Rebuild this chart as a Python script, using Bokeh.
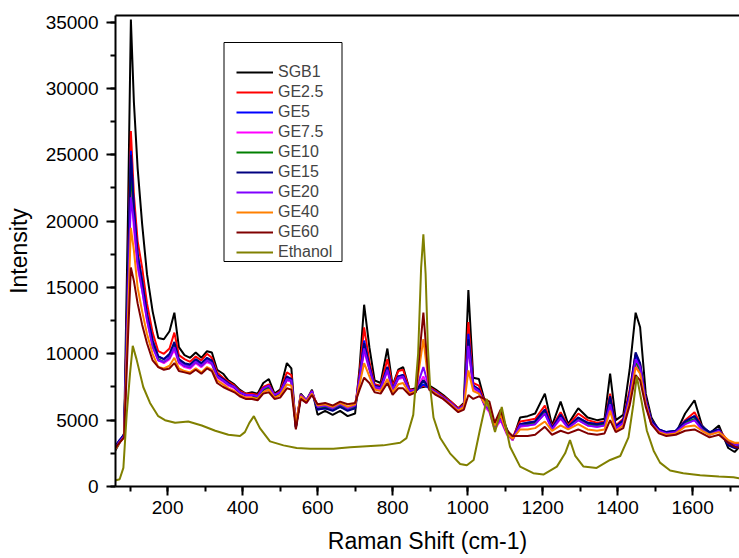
from bokeh.plotting import figure
from bokeh.models import (Range1d, LinearAxis, SingleIntervalTicker, FixedTicker,
                          Legend, LegendItem, BoxAnnotation)
from bokeh.embed import file_html
from bokeh.resources import INLINE

# Raman shift grid (cm-1) shared by the sample spectra
shift = [
    60, 72, 84, 94, 102, 110, 120, 132, 145, 160,
    175, 190, 205, 218, 230, 245, 260, 275, 290, 305,
    318, 332, 348, 362, 378, 392, 408, 425, 440, 455,
    470, 485, 500, 518, 530, 542, 555, 570, 585, 600,
    620, 640, 660, 680, 700, 712, 724, 738, 752, 768,
    786, 800, 815, 828, 845, 862, 882, 898, 915, 935,
    955, 975, 990, 1002, 1015, 1030, 1045, 1058, 1072, 1088,
    1105, 1120, 1140, 1160, 1180, 1206, 1225, 1248, 1268, 1295,
    1320, 1345, 1365, 1380, 1395, 1415, 1432, 1448, 1460, 1475,
    1490, 1510, 1530, 1555, 1580, 1605, 1625, 1645, 1670, 1695,
    1712, 1728,
]

sgb1 = [
    2700, 3300, 4000, 20000, 35200, 29000, 24000, 19800, 16000, 13200,
    11200, 11100, 11700, 13100, 10500, 9900, 9700, 10100, 9700, 10200,
    10100, 8800, 8500, 8000, 7700, 7300, 7000, 7100, 7000, 7800,
    8100, 7000, 7300, 9300, 8900, 4400, 7000, 6500, 7300, 5400,
    5700, 5400, 5700, 5300, 5500, 9000, 13700, 10500, 8000, 7800,
    10400, 7600, 8800, 9000, 7300, 7400, 7500, 7600, 7300, 6900,
    6400, 5900, 6300, 14800, 8200, 8100, 6500, 6000, 4600, 5500,
    4300, 3500, 5200, 5300, 5500, 7000, 4600, 6400, 4700, 5900,
    5200, 5000, 5100, 8500, 5000, 5400, 8800, 13100, 12000, 7000,
    5200, 4200, 3900, 4000, 5500, 6500, 4600, 4000, 4600, 2900,
    2600, 3100,
]

ge2_5 = [
    2800, 3400, 3900, 16000, 26800, 22000, 18500, 16500, 13800, 11600,
    10200, 10000, 10400, 11600, 9900, 9600, 9400, 9800, 9500, 10000,
    9700, 8600, 8200, 7900, 7600, 7200, 7000, 7000, 6900, 7500,
    7700, 6900, 7200, 8600, 8400, 4600, 6900, 6500, 7200, 5900,
    6000, 5800, 6100, 5800, 6000, 8600, 12000, 9400, 7700, 7600,
    9600, 7500, 8700, 8800, 7300, 7300, 7600, 7500, 7200, 6800,
    6400, 5900, 6200, 12400, 7800, 7600, 6400, 5900, 4700, 5300,
    4200, 3700, 4900, 5000, 5100, 6100, 4500, 5600, 4600, 5500,
    5000, 4800, 4900, 7000, 4600, 5100, 7300, 10000, 9200, 6600,
    5000, 4300, 4000, 4100, 5000, 5600, 4500, 4000, 4300, 3400,
    3200, 3200,
]

ge5 = [
    3000, 3500, 3900, 15500, 25300, 21000, 17500, 15500, 13000, 11000,
    9800, 9600, 9900, 10700, 9500, 9200, 9100, 9500, 9200, 9600,
    9400, 8400, 8000, 7700, 7500, 7100, 6900, 6900, 6700, 7300,
    7500, 6800, 7000, 8200, 8100, 4500, 6800, 6400, 7100, 5800,
    5900, 5800, 6000, 5800, 5900, 8200, 11000, 9000, 7500, 7400,
    9000, 7300, 8300, 8400, 7200, 7200, 7700, 7400, 7100, 6700,
    6300, 5800, 6100, 11500, 7600, 7300, 6200, 5700, 4500, 5100,
    4000, 3600, 4700, 4800, 4900, 5800, 4400, 5400, 4500, 5200,
    4800, 4700, 4800, 6600, 4500, 5000, 7000, 9900, 9100, 6500,
    5000, 4300, 4100, 4200, 4900, 5300, 4500, 4100, 4300, 3200,
    3000, 3000,
]

ge7_5 = [
    2900, 3400, 3800, 14000, 22500, 19500, 16500, 14800, 12500, 10600,
    9500, 9300, 9600, 10300, 9300, 9000, 8900, 9300, 9000, 9400,
    9200, 8200, 7900, 7600, 7400, 7000, 6800, 6800, 6700, 7200,
    7400, 6700, 6900, 8000, 7900, 4500, 6700, 6300, 7000, 5900,
    6000, 5900, 6100, 5900, 6000, 8000, 10200, 8800, 7400, 7300,
    8700, 7200, 8100, 8200, 7100, 7200, 8300, 7300, 7000, 6600,
    6200, 5700, 6000, 10600, 7400, 7100, 6100, 5600, 4300, 5000,
    3900, 3500, 4500, 4600, 4700, 5500, 4300, 5100, 4400, 5000,
    4600, 4500, 4600, 6000, 4300, 4800, 6600, 9200, 8600, 6200,
    4700, 4100, 3900, 4000, 4700, 5000, 4300, 3900, 4200, 3300,
    3100, 3100,
]

ge10 = [
    2900, 3400, 3800, 15000, 24000, 20500, 17000, 15200, 12800, 10800,
    9600, 9400, 9700, 10600, 9400, 9100, 9000, 9400, 9100, 9500,
    9300, 8300, 8000, 7700, 7500, 7100, 6900, 6900, 6600, 7300,
    7500, 6800, 7000, 8100, 8000, 4500, 6800, 6400, 7100, 5900,
    6000, 5900, 6100, 5900, 6000, 8100, 10600, 8900, 7500, 7400,
    8900, 7300, 8200, 8300, 7200, 7200, 8000, 7400, 7100, 6700,
    6300, 5800, 6100, 10800, 7500, 7200, 6200, 5800, 4500, 5200,
    4000, 3600, 4600, 4700, 4800, 5600, 4400, 5200, 4500, 5100,
    4700, 4600, 4700, 6400, 4400, 4900, 6800, 9400, 8800, 6300,
    4800, 4200, 4000, 4100, 4800, 5100, 4400, 4000, 4200, 3300,
    3100, 3100,
]

ge15 = [
    3000, 3500, 3900, 15800, 25000, 21000, 17500, 15500, 13000, 11000,
    9800, 9600, 10000, 10900, 9600, 9300, 9200, 9600, 9300, 9700,
    9500, 8400, 8100, 7800, 7500, 7100, 6900, 6900, 6800, 7400,
    7600, 6800, 7100, 8300, 8100, 4500, 6800, 6400, 7100, 5800,
    5900, 5700, 6000, 5700, 5900, 8300, 10800, 9100, 7600, 7500,
    9000, 7300, 8300, 8400, 7200, 7200, 8000, 7400, 7100, 6700,
    6300, 5800, 6100, 11100, 7600, 7300, 6300, 5800, 4600, 5200,
    4100, 3600, 4700, 4800, 4900, 5800, 4400, 5400, 4500, 5200,
    4800, 4700, 4800, 6800, 4500, 5000, 7000, 10100, 9300, 6500,
    5000, 4300, 4100, 4200, 4900, 5300, 4500, 4100, 4300, 3100,
    2900, 2900,
]

ge20 = [
    2900, 3400, 3800, 14000, 21800, 20000, 16800, 14800, 12600, 10500,
    9500, 9400, 9700, 10500, 9400, 9100, 9000, 9400, 9100, 9500,
    9300, 8300, 8000, 7700, 7500, 7100, 6900, 6900, 6800, 7400,
    7600, 6900, 7100, 8100, 8000, 4700, 6900, 6500, 7200, 6000,
    6100, 5900, 6200, 5900, 6100, 8200, 10400, 8900, 7500, 7400,
    8800, 7300, 8200, 8300, 7200, 7300, 9000, 7400, 7100, 6700,
    6300, 5800, 6100, 10600, 7500, 7200, 6200, 5800, 4500, 5100,
    4000, 3600, 4600, 4600, 4700, 5500, 4300, 5200, 4400, 5000,
    4600, 4500, 4600, 6200, 4400, 4800, 6800, 9600, 9000, 6400,
    4800, 4200, 4000, 4100, 4700, 5000, 4300, 3900, 4200, 3300,
    3100, 3200,
]

ge40 = [
    2800, 3300, 3700, 12500, 19500, 17800, 15000, 13200, 11500, 10000,
    9000, 8900, 9100, 9700, 8900, 8700, 8600, 8900, 8600, 9000,
    8800, 8000, 7700, 7400, 7200, 6900, 6700, 6700, 6600, 7100,
    7300, 6700, 6900, 7700, 7600, 4800, 6800, 6400, 7000, 6100,
    6200, 6000, 6300, 6000, 6200, 7700, 9300, 8300, 7300, 7200,
    8100, 7100, 7700, 7800, 7000, 7200, 11100, 7300, 7000, 6600,
    6200, 5700, 6000, 8750, 7200, 7000, 6300, 6000, 4600, 5400,
    4000, 3600, 4300, 4300, 4400, 4900, 4200, 4600, 4300, 4700,
    4300, 4200, 4300, 5700, 4200, 4600, 6400, 9000, 8500, 6200,
    4700, 4100, 3900, 4000, 4500, 4600, 4200, 3900, 4100, 3500,
    3300, 3300,
]

ge60 = [
    2900, 3300, 3700, 11000, 16500, 15500, 13800, 12200, 10800, 9500,
    9000, 8800, 8900, 9300, 8700, 8600, 8500, 8800, 8500, 8900,
    8700, 7800, 7500, 7300, 7100, 6800, 6600, 6600, 6500, 7000,
    7100, 6600, 6700, 7400, 7300, 4300, 6600, 6300, 6900, 6200,
    6300, 6100, 6400, 6200, 6300, 7300, 8200, 7800, 7100, 7000,
    7800, 6900, 7400, 7400, 6900, 7100, 13100, 7300, 6900, 6600,
    6100, 5600, 5800, 6900, 6600, 6800, 6600, 6400, 4800, 5800,
    4200, 3800, 3800, 3800, 3900, 4500, 3900, 4200, 4000, 4300,
    4000, 3900, 4000, 5000, 4100, 4400, 6100, 8400, 8000, 6000,
    4700, 4000, 3800, 3900, 4200, 4300, 4000, 3700, 3900, 3300,
    3000, 2900,
]

# Reference solvent spectrum on its own grid
ethanol_shift = [
    60, 72, 82, 91, 100, 107, 117, 135, 153, 175,
    193, 220, 255, 291, 327, 362, 393, 406, 418, 430,
    446, 473, 509, 544, 580, 642, 687, 775, 820, 837,
    855, 868, 876, 882, 888, 894, 900, 909, 927, 953,
    980, 998, 1016, 1033, 1051, 1065, 1073, 1091, 1113, 1140,
    1175, 1202, 1238, 1260, 1273, 1287, 1309, 1344, 1380, 1407,
    1429, 1442, 1451, 1464, 1478, 1496, 1513, 1540, 1575, 1620,
    1670, 1709, 1728,
]
ethanol = [
    450, 550, 1400, 5500, 8600, 10600, 9600, 7500, 6300, 5300,
    5000, 4800, 4900, 4600, 4200, 3900, 3800, 4100, 4800, 5300,
    4400, 3400, 3100, 2900, 2850, 2850, 2950, 3100, 3300, 3650,
    5400, 10000, 16500, 19000, 16000, 10500, 7500, 5200, 3650, 2500,
    1700, 1600, 2000, 4300, 6600, 5000, 4100, 6000, 3000, 1500,
    1000, 900, 1500, 2500, 3500, 2300, 1500, 1400, 2000, 2300,
    3700, 6200, 8300, 6400, 4200, 2700, 1800, 1200, 1000, 850,
    750, 700, 600,
]

names = ["SGB1", "GE2.5", "GE5", "GE7.5", "GE10", "GE15", "GE20", "GE40", "GE60", "Ethanol"]
colors = ["#000000", "#FF0000", "#0000FF", "#FF00FF", "#008000",
          "#000080", "#8000FF", "#FF8000", "#800000", "#808000"]
xs = [shift] * 9 + [ethanol_shift]
ys = [sgb1, ge2_5, ge5, ge7_5, ge10, ge15, ge20, ge40, ge60, ethanol]

FONT = "Liberation Sans"

p = figure(width=739, height=558, output_backend="svg", toolbar_location=None,
           x_range=Range1d(61, 1725), y_range=Range1d(0, 35500),
           min_border_left=115, min_border_right=0, min_border_top=15,
           min_border_bottom=72, x_axis_label="Raman Shift (cm-1)",
           y_axis_label="Intensity")
p.outline_line_color = None
p.grid.visible = False
p.background_fill_color = "white"
p.border_fill_color = "white"

xa = p.xaxis[0]
xa.ticker = SingleIntervalTicker(interval=200, num_minor_ticks=2)
ya = p.yaxis[0]
ya.ticker = SingleIntervalTicker(interval=5000, num_minor_ticks=2)

for ax in (xa, ya):
    ax.axis_line_width = 2
    ax.axis_line_color = "black"
    ax.major_tick_line_width = 2
    ax.minor_tick_line_width = 2
    ax.major_tick_in = 0
    ax.minor_tick_in = 0
    ax.major_tick_out = 9
    ax.minor_tick_out = 5
    ax.major_label_text_font = FONT
    ax.major_label_text_font_size = "19px"
    ax.major_label_text_color = "black"
    ax.axis_label_text_font = FONT
    ax.axis_label_text_font_size = "23px"
    ax.axis_label_text_font_style = "normal"
    ax.axis_label_text_color = "black"

xa.major_label_standoff = 5
xa.axis_label_standoff = 11
ya.major_label_standoff = 8
ya.axis_label_standoff = 11

# plain top border line
top = LinearAxis(ticker=FixedTicker(ticks=[]), axis_line_width=2,
                 major_tick_out=0, minor_tick_out=0)
p.add_layout(top, "above")

items = []
for name, color, x, y in zip(names, colors, xs, ys):
    r = p.line(x, y, line_color=color, line_width=2)
    items.append(LegendItem(label=name, renderers=[r]))

frame_box = BoxAnnotation(left=108.5, right=226.5, top=444, bottom=225,
                          left_units="screen", right_units="screen",
                          top_units="screen", bottom_units="screen",
                          fill_alpha=0, line_color="black", line_width=1,
                          line_alpha=1)
p.add_layout(frame_box)

legend = Legend(items=items, location=(121, 224), padding=0, spacing=0, margin=0,
                label_height=20, glyph_height=20, glyph_width=37,
                label_standoff=5, label_text_font=FONT,
                label_text_font_size="16px", border_line_color=None,
                background_fill_alpha=0)
p.add_layout(legend, "center")

open("out.html", "w").write(file_html(p, INLINE))
